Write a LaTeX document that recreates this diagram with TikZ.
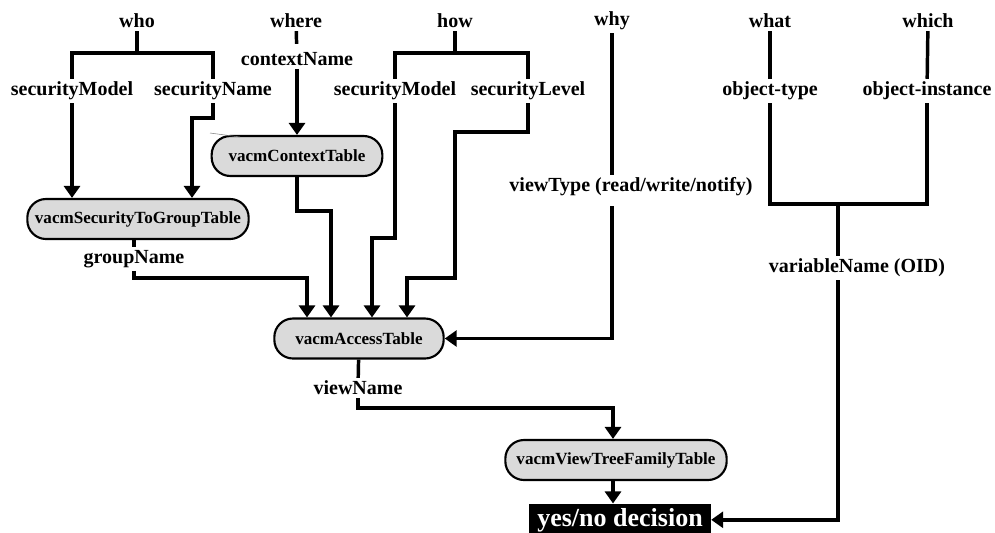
\documentclass[tikz,border=0pt]{standalone}
\usepackage{fontspec}
\setmainfont{Liberation Serif}
\usetikzlibrary{arrows.meta,calc}
\definecolor{tblfill}{RGB}{218,218,218}

\tikzset{every picture/.style={line width=0.75pt}}
\tikzset{
  lbl/.style={font=\fontsize{15}{17}\selectfont\bfseries, inner sep=2pt},
  tbl/.style={draw, line width=1.6pt, fill=tblfill, rounded corners=14pt, minimum height=30pt, inner sep=0pt, font=\fontsize{12.8}{15}\selectfont\bfseries},
  wire/.style={line width=2.6pt},
  arr/.style={wire, -{Triangle[width=12pt,length=9pt]}},
  decbox/.style={fill=black, text=white, font=\fontsize{19.5}{22}\selectfont\bfseries, minimum width=136pt, inner xsep=0.5pt, inner ysep=3pt}
}

\begin{document}
\begin{tikzpicture}[x=0.75pt,y=0.75pt,yscale=-1,xscale=1]
\useasboundingbox (0,0) rectangle (995,532);
\clip (0,0) rectangle (995,532);

% Question Nodes
\node[lbl] (who) at (137,21) {who};
\node[lbl] (where) at (296,21) {where};
\node[lbl] (how) at (455,21) {how};
\node[lbl] (why) at (612,21) {why};
\node[lbl] (what) at (770,21) {what};
\node[lbl] (which) at (928,21) {which};

% Parameter Nodes
\node[lbl] (smA) at (72,91) {securityModel};
\node[lbl] (snA) at (213,91) {securityName};
\node[lbl] (ctxName) at (297,59) {contextName};
\node[lbl] (smB) at (395,91) {securityModel};
\node[lbl] (sl) at (528,91) {securityLevel};
\node[lbl] (ot) at (770,91) {object-type};
\node[lbl] (oi) at (927,91) {object-instance};
\node[lbl] (vt) at (631,187) {viewType (read/write/notify)};
\node[lbl] (gn) at (134,259) {groupName};
\node[lbl] (vn) at (358,388) {viewName};
\node[lbl] (var) at (857,268) {variableName (OID)};

% Table Nodes
\node[tbl, minimum width=128pt] (ctx) at (297,156) {vacmContextTable};
\node[tbl, minimum width=166pt] (sec) at (138,219) {vacmSecurityToGroupTable};
\node[tbl, minimum width=127pt] (acc) at (359,338.5) {vacmAccessTable};
\node[tbl, minimum width=166pt] (vtf) at (616,460) {vacmViewTreeFamilyTable};
\node[decbox, anchor=base] (dec) at (620,526) {yes/no decision};

% Bend Points
\coordinate (whoJ) at (137,53);
\coordinate (howJ) at (455,53);
\coordinate (varJ) at (838,204);
\coordinate (snJ) at (192,118);
\coordinate (ctxJ) at (331,211);
\coordinate (gnJ) at (307,278);
\coordinate (smBJ) at (372,238);
\coordinate (slJ) at (455,132);
\coordinate (slK) at (407,278);
\coordinate (vnJ) at (613,408);

% who
\draw[wire] (who) -- (whoJ);
\draw[wire] (smA) |- (whoJ) -| (snA);
\draw[arr] (smA) -- (smA |- sec.north);
\draw[arr] (snA) |- (snJ) -- (snJ |- sec.north);

% where
\draw[wire, shorten >=4pt] (where) -- (ctxName);
\draw[arr] (ctxName) -- (ctx);
\draw[line width=0.4pt, gray] (210,133) -- (240,137);

% how
\draw[wire] (how) -- (howJ);
\draw[wire] (smB) |- (howJ) -| (sl);

% into vacmAccessTable
\draw[wire] (gn |- sec.south) -- (gn);
\draw[arr] (gn) |- (gnJ) -- (gnJ |- acc.north);
\draw[arr] (ctx) |- (ctxJ) -- (ctxJ |- acc.north);
\draw[arr] (smB) |- (smBJ) -- (smBJ |- acc.north);
\draw[arr] (sl) |- (slJ) |- (slK) -- (slK |- acc.north);

% why
\draw[wire] (why) -- (why |- vt.north);
\draw[arr, shorten <=5pt] (why |- vt.south) |- (acc.east);

% what / which
\draw[wire] (what) -- (ot);
\draw[wire] (which) -- (oi);
\draw[wire] (ot) |- (varJ) -| (oi);
\draw[wire] (varJ) -- (varJ |- var.north);
\draw[arr] (varJ |- var.south) |- (dec.east);

% view
\draw[wire] (acc) -- (vn);
\draw[arr] (vn) |- (vnJ) -- (vnJ |- vtf.north);
\draw[arr] (vnJ |- vtf.south) -- (vnJ |- dec.north);

\end{tikzpicture}
\end{document}
